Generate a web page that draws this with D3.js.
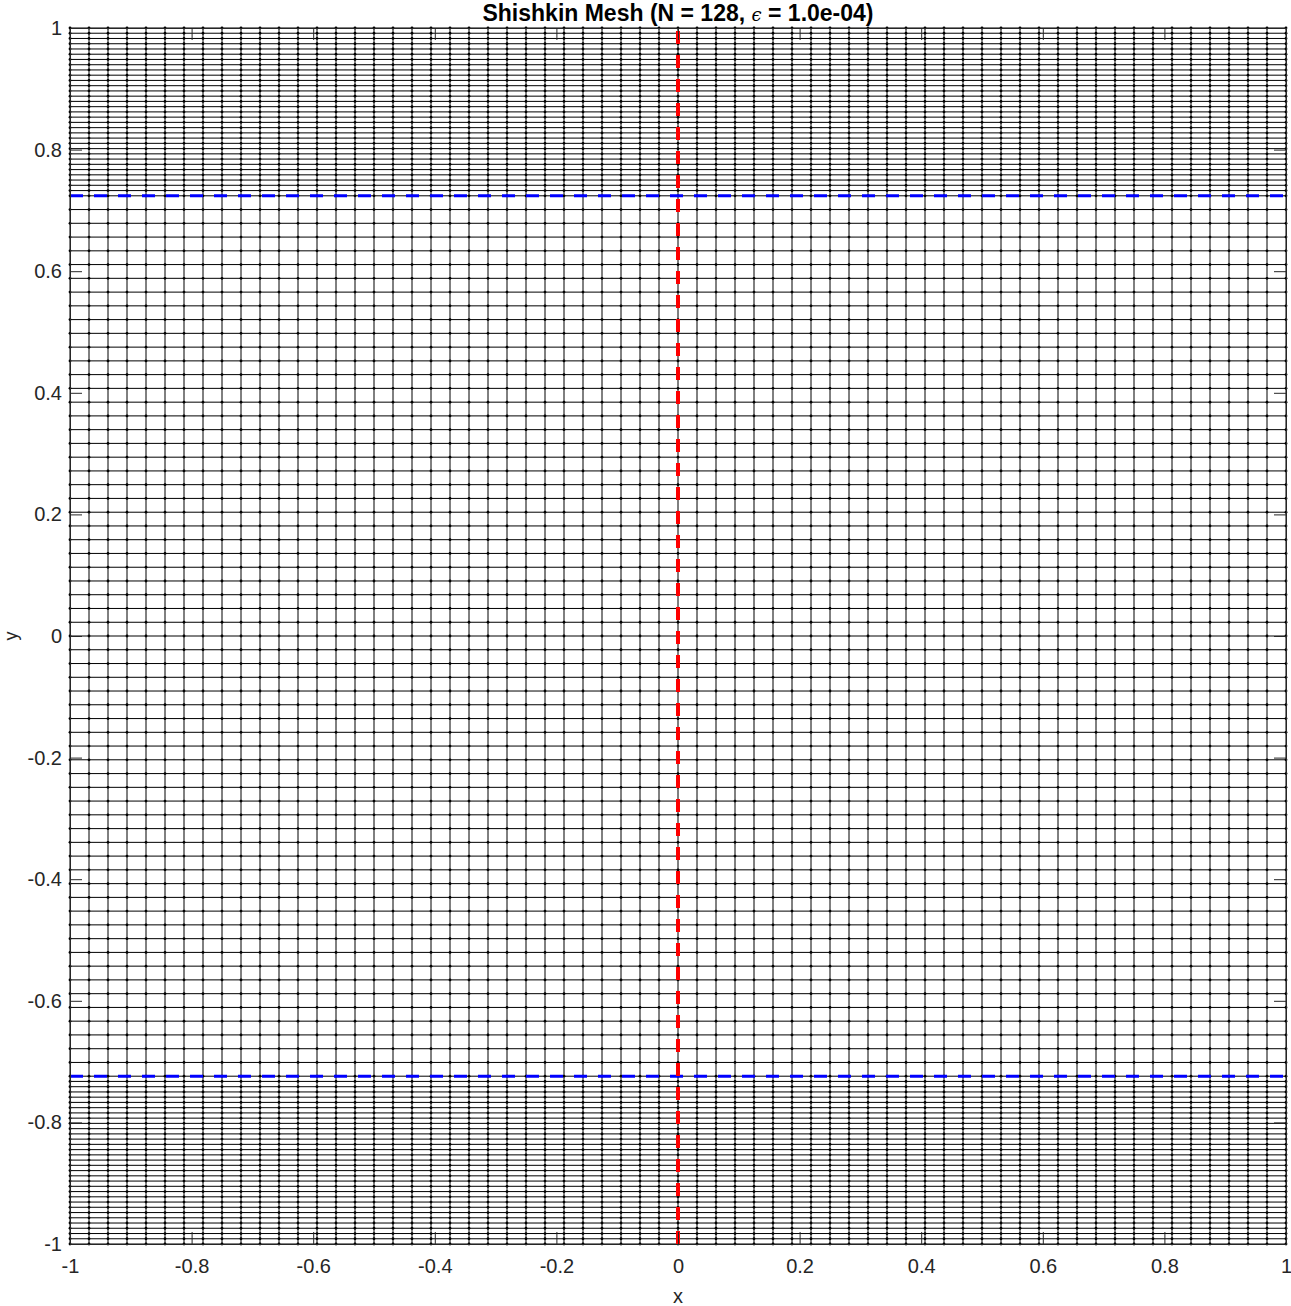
<!DOCTYPE html>
<html>
<head>
<meta charset="utf-8">
<script src="https://cdn.jsdelivr.net/npm/d3@7"></script>
<style>
  html, body { margin: 0; padding: 0; background: #ffffff; }
  svg { display: block; }
</style>
</head>
<body>
<svg id="chart" width="1291" height="1306"></svg>
<script>
// ---- Data ----
const titleMain = "Shishkin Mesh (N = 128, ";
const titleEps = "\u03F5";
const titleTail = " = 1.0e-04)";
const xLabel = "x";
const yLabel = "y";

// Uniform mesh in x: 64 intervals
const xNodes = [-1, -0.96875, -0.9375, -0.90625, -0.875, -0.84375, -0.8125, -0.78125, -0.75, -0.71875,
  -0.6875, -0.65625, -0.625, -0.59375, -0.5625, -0.53125, -0.5, -0.46875, -0.4375, -0.40625,
  -0.375, -0.34375, -0.3125, -0.28125, -0.25, -0.21875, -0.1875, -0.15625, -0.125, -0.09375,
  -0.0625, -0.03125, 0, 0.03125, 0.0625, 0.09375, 0.125, 0.15625, 0.1875, 0.21875,
  0.25, 0.28125, 0.3125, 0.34375, 0.375, 0.40625, 0.4375, 0.46875, 0.5, 0.53125,
  0.5625, 0.59375, 0.625, 0.65625, 0.6875, 0.71875, 0.75, 0.78125, 0.8125, 0.84375,
  0.875, 0.90625, 0.9375, 0.96875, 1];

// Shishkin mesh in y: 32 fine intervals in each layer, 64 coarse intervals in the middle
const yNodesBottom = [-1, -0.9914, -0.9828, -0.9741, -0.9655, -0.9569, -0.9483, -0.9396, -0.931, -0.9224,
  -0.9138, -0.9051, -0.8965, -0.8879, -0.8793, -0.8706, -0.862, -0.8534, -0.8448, -0.8361,
  -0.8275, -0.8189, -0.8103, -0.8016, -0.793, -0.7844, -0.7758, -0.7671, -0.7585, -0.7499,
  -0.7413, -0.7326];
const yNodesMiddle = [-0.724, -0.7014, -0.6788, -0.6561, -0.6335, -0.6109, -0.5883, -0.5656, -0.543, -0.5204,
  -0.4978, -0.4751, -0.4525, -0.4299, -0.4073, -0.3846, -0.362, -0.3394, -0.3168, -0.2941,
  -0.2715, -0.2489, -0.2263, -0.2036, -0.181, -0.1584, -0.1358, -0.1131, -0.0905, -0.0679,
  -0.0453, -0.0226, 0, 0.0226, 0.0453, 0.0679, 0.0905, 0.1131, 0.1358, 0.1584,
  0.181, 0.2036, 0.2263, 0.2489, 0.2715, 0.2941, 0.3168, 0.3394, 0.362, 0.3846,
  0.4073, 0.4299, 0.4525, 0.4751, 0.4978, 0.5204, 0.543, 0.5656, 0.5883, 0.6109,
  0.6335, 0.6561, 0.6788, 0.7014, 0.724];
const yNodesTop = [0.7326, 0.7413, 0.7499, 0.7585, 0.7671, 0.7758, 0.7844, 0.793, 0.8016, 0.8103,
  0.8189, 0.8275, 0.8361, 0.8448, 0.8534, 0.862, 0.8706, 0.8793, 0.8879, 0.8965,
  0.9051, 0.9138, 0.9224, 0.931, 0.9396, 0.9483, 0.9569, 0.9655, 0.9741, 0.9828,
  0.9914, 1];

// Transition lines
const transitionY = [-0.724, 0.724];
const transitionX = [0];

// Ticks
const xTicks = [-1, -0.8, -0.6, -0.4, -0.2, 0, 0.2, 0.4, 0.6, 0.8, 1];
const xTickLabels = ["-1", "-0.8", "-0.6", "-0.4", "-0.2", "0", "0.2", "0.4", "0.6", "0.8", "1"];
const yTicks = [-1, -0.8, -0.6, -0.4, -0.2, 0, 0.2, 0.4, 0.6, 0.8, 1];
const yTickLabels = ["-1", "-0.8", "-0.6", "-0.4", "-0.2", "0", "0.2", "0.4", "0.6", "0.8", "1"];

// ---- Drawing ----
(function () {
  const yNodes = yNodesBottom.concat(yNodesMiddle, yNodesTop);
  const svg = d3.select("#chart");
  const pLeft = 70, pRight = 1286, pTop = 28, pBottom = 1244;
  const x = d3.scaleLinear().domain([-1, 1]).range([pLeft, pRight]);
  const y = d3.scaleLinear().domain([-1, 1]).range([pBottom, pTop]);
  const axisColor = "#262626";
  const fontFam = "'Liberation Sans', Arial, Helvetica, sans-serif";

  const g = svg.append("g");

  // vertical mesh lines
  g.append("g").selectAll("line").data(xNodes).join("line")
    .attr("x1", d => x(d)).attr("x2", d => x(d))
    .attr("y1", y(-1)).attr("y2", y(1))
    .attr("stroke", "#000").attr("stroke-width", 1);

  // horizontal mesh lines
  g.append("g").selectAll("line").data(yNodes).join("line")
    .attr("y1", d => y(d)).attr("y2", d => y(d))
    .attr("x1", x(-1)).attr("x2", x(1))
    .attr("stroke", "#000").attr("stroke-width", 1);

  // nodes
  const nodes = [];
  yNodes.forEach(yv => xNodes.forEach(xv => nodes.push([xv, yv])));
  g.append("g").selectAll("circle").data(nodes).join("circle")
    .attr("cx", d => x(d[0])).attr("cy", d => y(d[1]))
    .attr("r", 1.4).attr("fill", "#000");

  // transition lines (blue, horizontal)
  g.append("g").selectAll("line").data(transitionY).join("line")
    .attr("x1", x(-1)).attr("x2", x(1))
    .attr("y1", d => y(d)).attr("y2", d => y(d))
    .attr("stroke", "#0000ff").attr("stroke-width", 3)
    .attr("stroke-dasharray", "13,11");

  // transition line (red, vertical), drawn from bottom to top
  g.append("g").selectAll("line").data(transitionX).join("line")
    .attr("x1", d => x(d)).attr("x2", d => x(d))
    .attr("y1", y(-1)).attr("y2", y(1))
    .attr("stroke", "#ff0000").attr("stroke-width", 4)
    .attr("stroke-dasharray", "13,11");

  function styleAxis(sel) {
    sel.selectAll("path.domain").attr("stroke", axisColor).attr("stroke-width", 1);
    sel.selectAll(".tick line").attr("stroke", axisColor).attr("stroke-width", 1);
    sel.selectAll(".tick text").attr("fill", axisColor)
      .style("font-family", fontFam).style("font-size", "20px");
  }

  const xAxisB = svg.append("g").attr("transform", `translate(0,${pBottom})`)
    .call(d3.axisBottom(x).tickValues(xTicks).tickSizeInner(-12).tickSizeOuter(0).tickPadding(15)
      .tickFormat((d, i) => xTickLabels[i]));
  styleAxis(xAxisB);

  const yAxisL = svg.append("g").attr("transform", `translate(${pLeft},0)`)
    .call(d3.axisLeft(y).tickValues(yTicks).tickSizeInner(-12).tickSizeOuter(0).tickPadding(8)
      .tickFormat((d, i) => yTickLabels[i]));
  styleAxis(yAxisL);

  const xAxisT = svg.append("g").attr("transform", `translate(0,${pTop})`)
    .call(d3.axisTop(x).tickValues(xTicks).tickSizeInner(-12).tickSizeOuter(0).tickFormat(""));
  styleAxis(xAxisT);

  const yAxisR = svg.append("g").attr("transform", `translate(${pRight},0)`)
    .call(d3.axisRight(y).tickValues(yTicks).tickSizeInner(-12).tickSizeOuter(0).tickFormat(""));
  styleAxis(yAxisR);

  // axis labels
  svg.append("text")
    .attr("x", (pLeft + pRight) / 2).attr("y", 1303)
    .attr("text-anchor", "middle").attr("fill", axisColor)
    .style("font-family", fontFam).style("font-size", "20px")
    .text(xLabel);

  svg.append("text")
    .attr("transform", `translate(17,${(pTop + pBottom) / 2}) rotate(-90)`)
    .attr("text-anchor", "middle").attr("fill", axisColor)
    .style("font-family", fontFam).style("font-size", "18px")
    .text(yLabel);

  // title
  const title = svg.append("text")
    .attr("x", (pLeft + pRight) / 2).attr("y", 21)
    .attr("text-anchor", "middle").attr("fill", "#000")
    .style("font-family", fontFam).style("font-size", "23px").style("font-weight", "bold");
  title.append("tspan").text(titleMain);
  title.append("tspan").text(titleEps)
    .style("font-family", "'DejaVu Serif', 'Liberation Serif', serif")
    .style("font-weight", "normal").style("font-style", "italic").style("font-size", "18px");
  title.append("tspan").text(titleTail);
})();
</script>
</body>
</html>
